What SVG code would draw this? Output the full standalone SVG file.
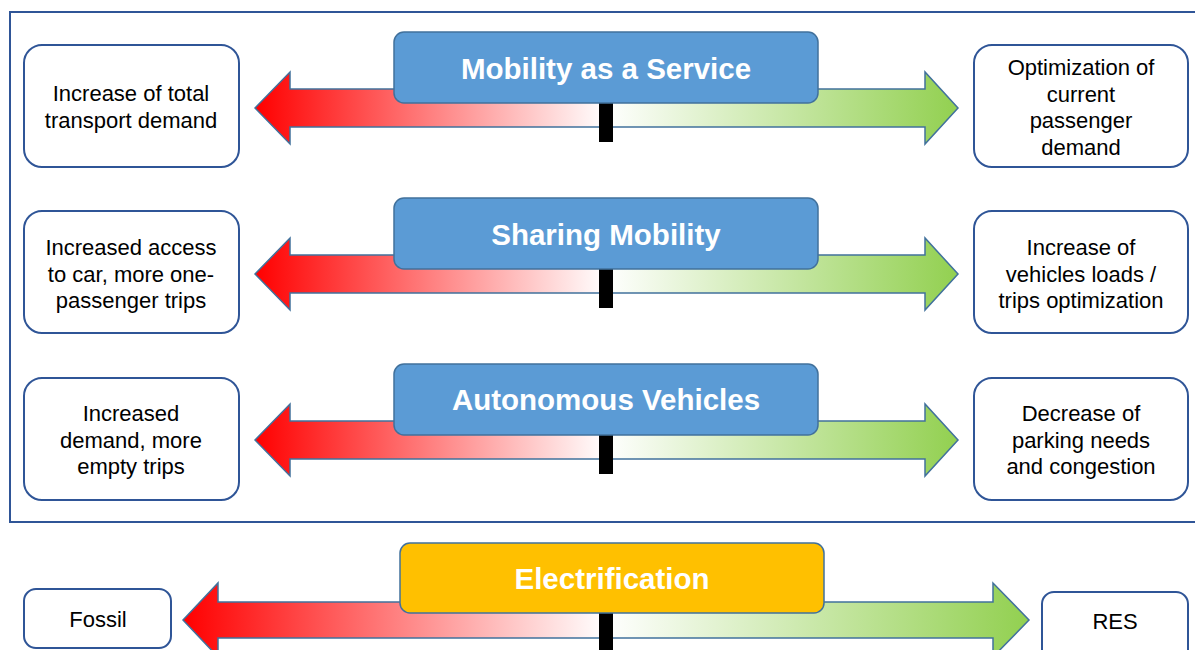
<svg xmlns="http://www.w3.org/2000/svg" width="1195" height="650" viewBox="0 0 1195 650">
<style>
.frame{fill:none;stroke:#2F5597;stroke-width:2}
.box{fill:#FFFFFF;stroke:#2F5597;stroke-width:2}
.title{fill:#5B9BD5;stroke:#41719C;stroke-width:1.5}
.titleY{fill:#FFC000;stroke:#41719C;stroke-width:1.5}
.tt{font-family:"Liberation Sans",Arial,sans-serif;font-weight:bold;font-size:29.5px;fill:#FFFFFF;text-anchor:middle}
.bt{font-family:"Liberation Sans",Arial,sans-serif;font-size:22px;fill:#000000;text-anchor:middle}
.red{fill:url(#gRed);stroke:#41719C;stroke-width:1.5}
.grn{fill:url(#gGrn);stroke:#41719C;stroke-width:1.5}
.bar{fill:#000000}
</style>
<defs>
<linearGradient id="gRed" x1="0" y1="0" x2="1" y2="0">
<stop offset="0" stop-color="#FF0000"/>
<stop offset="1" stop-color="#FFFFFF"/>
</linearGradient>
<linearGradient id="gGrn" x1="0" y1="0" x2="1" y2="0">
<stop offset="0" stop-color="#FFFFFF"/>
<stop offset="1" stop-color="#92D050"/>
</linearGradient>
</defs>
<rect width="1195" height="650" fill="#FFFFFF"/>
<rect class="frame" x="10" y="12" width="1192" height="510"/>

<g id="connectors">
<g id="arrows-maas">
<polygon class="red" points="255,108 290,72 290,89 606,89 606,127 290,127 290,144"/>
<polygon class="grn" points="606,89 925,89 925,72 958,108 925,144 925,127 606,127"/>
<rect class="bar" x="599" y="100" width="14" height="42"/>
</g>
<g id="arrows-sharing" transform="translate(0,166)">
<polygon class="red" points="255,108 290,72 290,89 606,89 606,127 290,127 290,144"/>
<polygon class="grn" points="606,89 925,89 925,72 958,108 925,144 925,127 606,127"/>
<rect class="bar" x="599" y="100" width="14" height="42"/>
</g>
<g id="arrows-av" transform="translate(0,332)">
<polygon class="red" points="255,108 290,72 290,89 606,89 606,127 290,127 290,144"/>
<polygon class="grn" points="606,89 925,89 925,72 958,108 925,144 925,127 606,127"/>
<rect class="bar" x="599" y="100" width="14" height="42"/>
</g>
<g id="arrows-elec">
<polygon class="red" points="183,620 218,583 218,602 606,602 606,638 218,638 218,657"/>
<polygon class="grn" points="606,602 993,602 993,583 1029,620 993,657 993,638 606,638"/>
<rect class="bar" x="599" y="610" width="14" height="45"/>
</g>
</g>

<g id="maas">
<rect class="title" x="394" y="32" width="424" height="71" rx="10"/>
<text class="tt" x="606" y="79">Mobility as a Service</text>
</g>
<g id="maas-left">
<rect class="box" x="24" y="45" width="215" height="122" rx="18"/>
<text class="bt" x="131" y="101">Increase of total</text>
<text class="bt" x="131" y="128">transport demand</text>
</g>
<g id="maas-right">
<rect class="box" x="974" y="45" width="214" height="122" rx="18"/>
<text class="bt" x="1081" y="75">Optimization of</text>
<text class="bt" x="1081" y="102">current</text>
<text class="bt" x="1081" y="128">passenger</text>
<text class="bt" x="1081" y="155">demand</text>
</g>

<g id="sharing">
<rect class="title" x="394" y="198" width="424" height="71" rx="10"/>
<text class="tt" x="606" y="245">Sharing Mobility</text>
</g>
<g id="sharing-left">
<rect class="box" x="24" y="211" width="215" height="122" rx="18"/>
<text class="bt" x="131" y="255">Increased access</text>
<text class="bt" x="131" y="282">to car, more one-</text>
<text class="bt" x="131" y="308">passenger trips</text>
</g>
<g id="sharing-right">
<rect class="box" x="974" y="211" width="214" height="122" rx="18"/>
<text class="bt" x="1081" y="255">Increase of</text>
<text class="bt" x="1081" y="282">vehicles loads /</text>
<text class="bt" x="1081" y="308">trips optimization</text>
</g>

<g id="av">
<rect class="title" x="394" y="364" width="424" height="71" rx="10"/>
<text class="tt" x="606" y="410">Autonomous Vehicles</text>
</g>
<g id="av-left">
<rect class="box" x="24" y="378" width="215" height="122" rx="18"/>
<text class="bt" x="131" y="421">Increased</text>
<text class="bt" x="131" y="448">demand, more</text>
<text class="bt" x="131" y="474">empty trips</text>
</g>
<g id="av-right">
<rect class="box" x="974" y="378" width="214" height="122" rx="18"/>
<text class="bt" x="1081" y="421">Decrease of</text>
<text class="bt" x="1081" y="448">parking needs</text>
<text class="bt" x="1081" y="474">and congestion</text>
</g>

<g id="elec">
<rect class="titleY" x="400" y="543" width="424" height="70" rx="10"/>
<text class="tt" x="612" y="589">Electrification</text>
</g>
<g id="fossil">
<rect class="box" x="24" y="589" width="147" height="59" rx="12"/>
<text class="bt" x="98" y="627">Fossil</text>
</g>
<g id="res">
<rect class="box" x="1042" y="592" width="146" height="70" rx="12"/>
<text class="bt" x="1115" y="629">RES</text>
</g>
</svg>
